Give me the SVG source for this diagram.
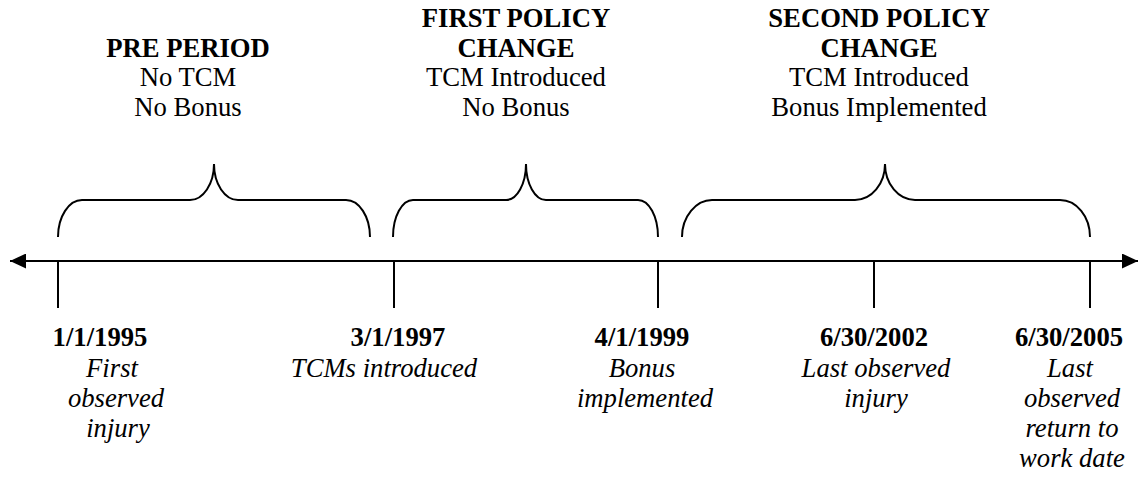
<svg xmlns="http://www.w3.org/2000/svg" width="1140" height="487" viewBox="0 0 1140 487">
  <style>
    text { font-family: "Liberation Serif", "Times New Roman", serif; font-size: 26.67px; fill: #000; text-anchor: middle; }
    .b { font-weight: bold; }
    .i { font-style: italic; }
    .ln { stroke: #000; stroke-width: 2; fill: none; }
  </style>
  <defs>
    <marker id="arrow" viewBox="0 0 16 15" refX="16" refY="7.5" markerWidth="16" markerHeight="15" markerUnits="userSpaceOnUse" orient="auto-start-reverse">
      <path d="M0,0 L16,7.5 L0,15 Z" fill="#000"/>
    </marker>
  </defs>

  <!-- time axis with ticks and period braces -->
  <g id="connectors">
    <line class="ln" x1="10" y1="261" x2="1138" y2="261" marker-start="url(#arrow)" marker-end="url(#arrow)"/>
    <line class="ln" x1="58" y1="261" x2="58" y2="308"/>
    <line class="ln" x1="394" y1="261" x2="394" y2="308"/>
    <line class="ln" x1="658" y1="261" x2="658" y2="308"/>
    <line class="ln" x1="874" y1="261" x2="874" y2="308"/>
    <line class="ln" x1="1090" y1="261" x2="1090" y2="308"/>
    <path class="ln" d="M58,237 C58,216.6 68.8,200 82,200 L190,200 C203.2,200 214,183.9 214,164 C214,183.9 224.8,200 238,200 L346,200 C359.2,200 370,216.6 370,237"/>
    <path class="ln" d="M393,237 C393,216.6 402,200 413,200 L506,200 C517,200 526,183.9 526,164 C526,183.9 535,200 546,200 L638,200 C649,200 658,216.6 658,237"/>
    <path class="ln" d="M682,237 C682,216.6 696,200 712,200 L855,200 C871.6,200 885,183.9 885,164 C885,183.9 898.4,200 915,200 L1060,200 C1076.6,200 1090,216.6 1090,237"/>
  </g>

  <!-- period headings -->
  <g id="pre-period">
    <text class="b" x="188" y="56.5">PRE PERIOD</text>
    <text x="188" y="86">No TCM</text>
    <text x="188" y="115.5">No Bonus</text>
  </g>
  <g id="first-policy-change">
    <text class="b" x="516" y="27">FIRST POLICY</text>
    <text class="b" x="516" y="56.5">CHANGE</text>
    <text x="516" y="86">TCM Introduced</text>
    <text x="516" y="115.5">No Bonus</text>
  </g>
  <g id="second-policy-change">
    <text class="b" x="879" y="27">SECOND POLICY</text>
    <text class="b" x="879" y="56.5">CHANGE</text>
    <text x="879" y="86">TCM Introduced</text>
    <text x="879" y="115.5">Bonus Implemented</text>
  </g>

  <!-- dated events below the axis -->
  <g id="date-1995">
    <text class="b" x="100" y="346">1/1/1995</text>
    <text class="i" x="112" y="377">First</text>
    <text class="i" x="116" y="407">observed</text>
    <text class="i" x="118" y="437">injury</text>
  </g>
  <g id="date-1997">
    <text class="b" x="398" y="346">3/1/1997</text>
    <text class="i" x="384" y="377">TCMs introduced</text>
  </g>
  <g id="date-1999">
    <text class="b" x="642" y="346">4/1/1999</text>
    <text class="i" x="642" y="377">Bonus</text>
    <text class="i" x="645" y="407">implemented</text>
  </g>
  <g id="date-2002">
    <text class="b" x="874" y="346">6/30/2002</text>
    <text class="i" x="876" y="377">Last observed</text>
    <text class="i" x="876" y="407">injury</text>
  </g>
  <g id="date-2005">
    <text class="b" x="1069" y="346">6/30/2005</text>
    <text class="i" x="1070" y="376.5">Last</text>
    <text class="i" x="1072" y="406.5">observed</text>
    <text class="i" x="1072" y="436.5">return to</text>
    <text class="i" x="1072" y="466.5">work date</text>
  </g>
</svg>
